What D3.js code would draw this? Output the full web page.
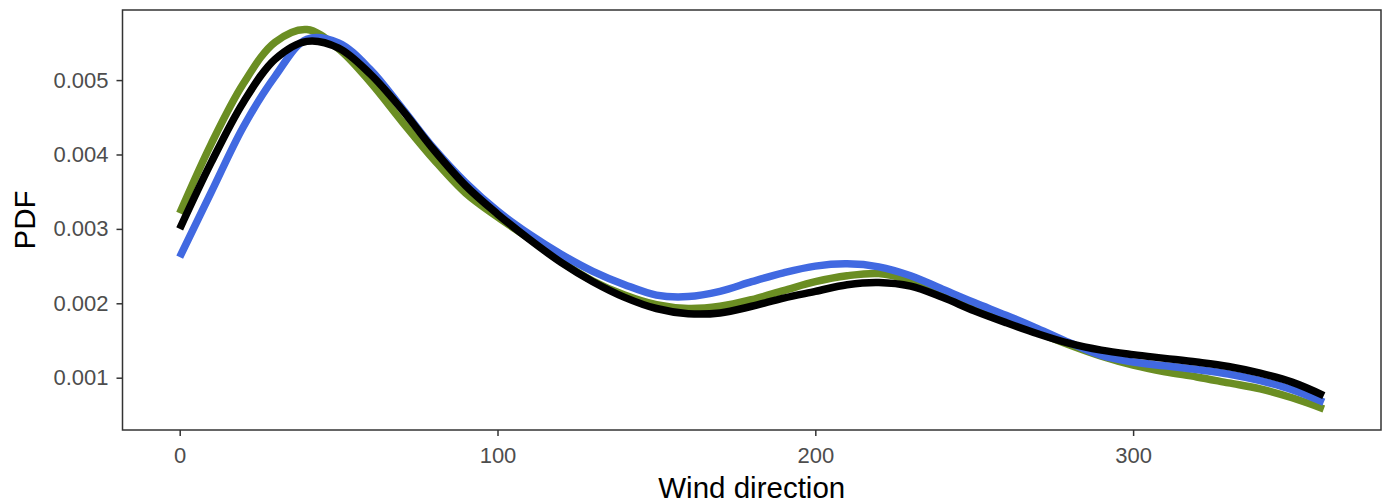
<!DOCTYPE html>
<html>
<head>
<meta charset="utf-8">
<script src="https://cdn.jsdelivr.net/npm/d3@7"></script>
<style>
  html, body { margin: 0; padding: 0; background: #fff; }
  svg { display: block; font-family: "Liberation Sans", Arial, Helvetica, sans-serif; }
</style>
</head>
<body>
<svg id="chart" width="1391" height="504"></svg>
<script>
// Wind direction grid (degrees)
const directions = [0,10,20,30,40,50,60,70,80,90,100,110,120,130,140,150,160,170,180,190,200,210,220,230,240,250,260,270,280,290,300,310,320,330,340,350,360];

// PDF values (x 1e-3)
const greenSeries = [3.21,4.15,4.95,5.51,5.68,5.42,4.97,4.44,3.93,3.48,3.16,2.87,2.56,2.30,2.11,1.98,1.93,1.96,2.05,2.17,2.29,2.37,2.40,2.31,2.15,1.97,1.79,1.61,1.44,1.29,1.17,1.08,1.01,0.93,0.85,0.73,0.58];
const blueSeries  = [2.62,3.50,4.37,5.05,5.55,5.50,5.14,4.62,4.08,3.62,3.24,2.93,2.66,2.43,2.25,2.11,2.09,2.16,2.29,2.41,2.50,2.53,2.49,2.37,2.19,2.01,1.84,1.66,1.47,1.30,1.21,1.16,1.11,1.05,0.96,0.84,0.67];
const blackSeries = [3.00,3.90,4.70,5.28,5.52,5.43,5.08,4.60,4.06,3.58,3.20,2.86,2.55,2.29,2.08,1.93,1.86,1.87,1.96,2.07,2.16,2.25,2.28,2.23,2.08,1.90,1.74,1.59,1.46,1.37,1.31,1.26,1.21,1.15,1.06,0.94,0.76];

const seriesColors = ["#6B8E23", "#4169E1", "#000000"];

const xTicks = [0, 100, 200, 300];
const yTicks = [0.001, 0.002, 0.003, 0.004, 0.005];

const xLabel = "Wind direction";
const yLabel = "PDF";

const panel = { left: 122.5, right: 1381, top: 10, bottom: 430 };

const svg = d3.select("#chart");

const x = d3.scaleLinear().domain([-18, 378]).range([panel.left, panel.right]);
const y = d3.scaleLinear().domain([0.000297, 0.005942]).range([panel.bottom, panel.top]);

const clipId = "plotclip";
svg.append("defs").append("clipPath").attr("id", clipId)
  .append("rect")
  .attr("x", panel.left).attr("y", panel.top)
  .attr("width", panel.right - panel.left).attr("height", panel.bottom - panel.top);

const line = d3.line()
  .x(d => x(d[0]))
  .y(d => y(d[1] / 1000))
  .curve(d3.curveCatmullRom.alpha(0.5));

const allSeries = [greenSeries, blueSeries, blackSeries];
const g = svg.append("g").attr("clip-path", `url(#${clipId})`);
allSeries.forEach((s, i) => {
  g.append("path")
    .datum(directions.map((d, j) => [d, s[j]]))
    .attr("d", line)
    .attr("fill", "none")
    .attr("stroke", seriesColors[i])
    .attr("stroke-width", 7.5)
    .attr("stroke-linecap", "butt")
    .attr("stroke-linejoin", "round");
});

// Panel border
svg.append("rect")
  .attr("x", panel.left).attr("y", panel.top)
  .attr("width", panel.right - panel.left).attr("height", panel.bottom - panel.top)
  .attr("fill", "none").attr("stroke", "#333333").attr("stroke-width", 1.5);

// X axis
const xAxis = d3.axisBottom(x).tickValues(xTicks).tickFormat(d3.format("d")).tickSize(6).tickPadding(11);
const xg = svg.append("g").attr("transform", `translate(0,${panel.bottom})`).call(xAxis);
xg.select(".domain").remove();
xg.selectAll(".tick line").attr("stroke", "#333333").attr("stroke-width", 1.5);
xg.selectAll(".tick text").attr("fill", "#4D4D4D").style("font-size", "22px")
  .style("font-family", "'Liberation Sans', Arial, sans-serif");

// Y axis
const yAxis = d3.axisLeft(y).tickValues(yTicks).tickFormat(d3.format(".3f")).tickSize(6).tickPadding(8);
const yg = svg.append("g").attr("transform", `translate(${panel.left},0)`).call(yAxis);
yg.select(".domain").remove();
yg.selectAll(".tick line").attr("stroke", "#333333").attr("stroke-width", 1.5);
yg.selectAll(".tick text").attr("fill", "#4D4D4D").style("font-size", "22px")
  .style("font-family", "'Liberation Sans', Arial, sans-serif");

// Axis titles
svg.append("text")
  .attr("x", (panel.left + panel.right) / 2).attr("y", 498)
  .attr("text-anchor", "middle").attr("fill", "#000")
  .style("font-size", "29.5px")
  .text(xLabel);

svg.append("text")
  .attr("transform", `translate(35,${(panel.top + panel.bottom) / 2}) rotate(-90)`)
  .attr("text-anchor", "middle").attr("fill", "#000")
  .style("font-size", "29.5px")
  .text(yLabel);
</script>
</body>
</html>
